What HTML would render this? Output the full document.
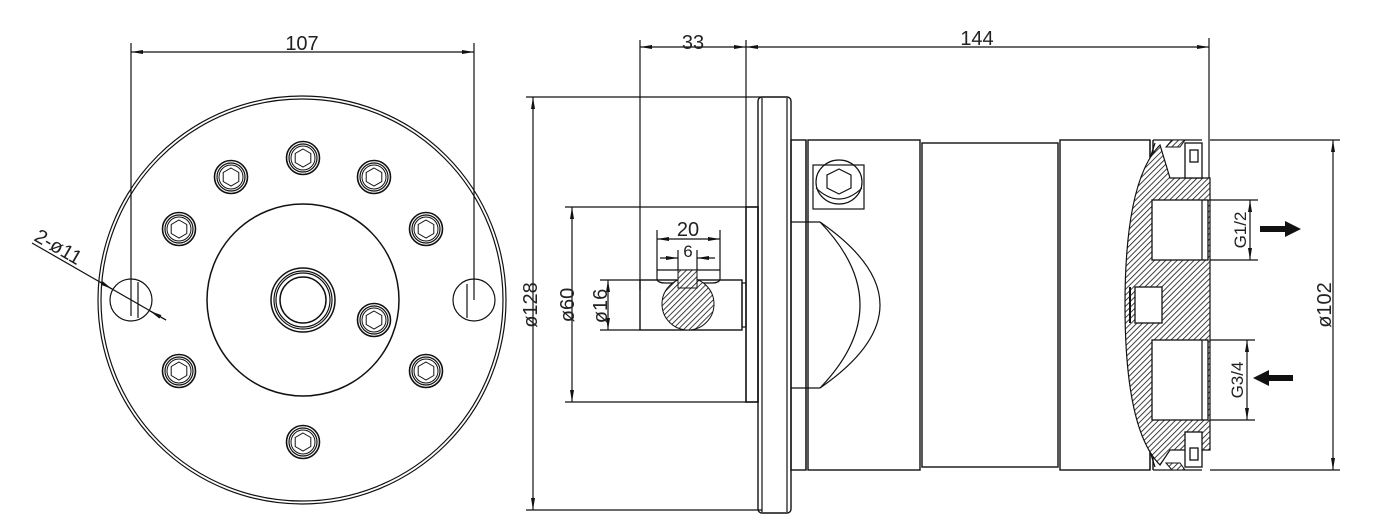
<!DOCTYPE html>
<html><head><meta charset="utf-8"><style>
html,body{margin:0;padding:0;background:#fff}
svg{display:block}
text{font-family:"Liberation Sans",sans-serif;fill:#222}
</style></head><body>
<svg width="1394" height="531" viewBox="0 0 1394 531" xmlns="http://www.w3.org/2000/svg">
<defs>
<pattern id="h" width="4" height="4" patternUnits="userSpaceOnUse" patternTransform="rotate(45)">
<rect width="4" height="4" fill="#fff"/><line x1="0" y1="0" x2="0" y2="4" stroke="#111" stroke-width="1.6"/></pattern>
<marker id="a" markerWidth="12" markerHeight="6" refX="12" refY="3" orient="auto-start-reverse" markerUnits="userSpaceOnUse"><path d="M0,1 L12,3 L0,5z" fill="#111"/></marker>
<g id="bolt"><circle r="16.5" fill="none" stroke="#111" stroke-width="1.6"/><circle r="14" fill="none" stroke="#111" stroke-width="1.2"/><circle r="12" fill="none" stroke="#111" stroke-width="1"/><polygon points="0,-9 7.8,-4.5 7.8,4.5 0,9 -7.8,4.5 -7.8,-4.5" fill="none" stroke="#111" stroke-width="1"/></g>
</defs>
<g fill="none" stroke="#111" stroke-width="1.2">
<!-- LEFT VIEW -->
<circle cx="302" cy="300" r="204"/><circle cx="302" cy="300" r="201"/>
<circle cx="303" cy="300" r="96" stroke-width="1.5"/>
<circle cx="303" cy="300" r="32" stroke-width="1.5"/><circle cx="303" cy="300" r="29"/><circle cx="303" cy="300" r="27"/><circle cx="303" cy="300" r="23" stroke-width="1.5"/>
<circle cx="131" cy="300" r="21"/><circle cx="474" cy="300" r="21"/>
<line x1="131" y1="43" x2="131" y2="316"/><line x1="474" y1="43" x2="474" y2="300"/>
<line x1="138" y1="282" x2="138" y2="318"/><line x1="467" y1="284" x2="467" y2="318"/>
<line x1="131" y1="52" x2="474" y2="52" marker-start="url(#a)" marker-end="url(#a)"/>
<line x1="32" y1="243" x2="166" y2="320"/>
<line x1="100" y1="282" x2="112" y2="289" marker-end="url(#a)"/>
<line x1="166" y1="320" x2="150" y2="311" marker-end="url(#a)"/>
</g>
<use href="#bolt" x="303" y="158"/><use href="#bolt" x="231" y="177"/><use href="#bolt" x="374" y="177"/>
<use href="#bolt" x="179" y="229"/><use href="#bolt" x="426" y="229"/><use href="#bolt" x="179" y="371"/>
<use href="#bolt" x="426" y="371"/><use href="#bolt" x="303" y="442"/><use href="#bolt" x="374" y="320"/>
<text x="302" y="50" font-size="20" text-anchor="middle">107</text>
<text x="0" y="0" font-size="20" transform="translate(33,240) rotate(30)">2-ø11</text>

<!-- RIGHT VIEW -->
<g fill="none" stroke="#111" stroke-width="1.2">
<line x1="640" y1="40" x2="640" y2="290"/><line x1="746" y1="40" x2="746" y2="207"/><line x1="1209" y1="38" x2="1209" y2="178"/>
<line x1="640" y1="47" x2="746" y2="47" marker-start="url(#a)" marker-end="url(#a)"/>
<line x1="746" y1="47" x2="1209" y2="47" marker-start="url(#a)" marker-end="url(#a)"/>
<line x1="526" y1="97" x2="762" y2="97"/><line x1="526" y1="510" x2="762" y2="510"/>
<line x1="533" y1="97" x2="533" y2="510" marker-start="url(#a)" marker-end="url(#a)"/>
<line x1="565" y1="207" x2="746" y2="207"/><line x1="565" y1="402" x2="746" y2="402"/>
<line x1="572" y1="207" x2="572" y2="402" marker-start="url(#a)" marker-end="url(#a)"/>
<line x1="600" y1="280" x2="640" y2="280"/><line x1="600" y1="330" x2="640" y2="330"/>
<line x1="608" y1="280" x2="608" y2="330" marker-start="url(#a)" marker-end="url(#a)"/>
<!-- shaft -->
<rect x="640" y="280" width="102" height="50" stroke-width="1.4"/>
<rect x="742" y="283" width="4" height="44"/>
<rect x="746" y="207" width="12" height="195" stroke-width="1.6"/>
<path d="M657,270 H720 V280 Q718,283 712,283 H700 M657,270 V280 Q659,283 665,283 H676"/>
<line x1="657" y1="230" x2="657" y2="270"/><line x1="720" y1="230" x2="720" y2="270"/>
<line x1="657" y1="239" x2="720" y2="239" marker-start="url(#a)" marker-end="url(#a)"/>
<line x1="678" y1="250" x2="678" y2="270"/><line x1="697" y1="250" x2="697" y2="270"/>
<line x1="660" y1="258" x2="678" y2="258" marker-end="url(#a)"/><line x1="715" y1="258" x2="697" y2="258" marker-end="url(#a)"/>
<!-- flange -->
<rect x="758" y="97" width="33" height="416" rx="4" stroke-width="1.4"/>
<line x1="762" y1="98" x2="762" y2="512"/><line x1="787" y1="98" x2="787" y2="512"/>
<!-- body -->
<rect x="791" y="140" width="15" height="330" stroke-width="1.4"/>
<line x1="806" y1="140" x2="806" y2="470"/>
<rect x="808" y="140" width="112" height="330" stroke-width="1.4"/>
<rect x="922" y="143" width="136" height="324" stroke-width="1.4"/>
<rect x="1060" y="140" width="90" height="330" stroke-width="1.4"/>
<line x1="1150" y1="140" x2="1150" y2="470"/><line x1="1153" y1="140" x2="1153" y2="470" stroke-width="1.4"/>
<line x1="1153" y1="140" x2="1202" y2="140"/><line x1="1153" y1="470" x2="1202" y2="470"/>
<!-- screw -->
<rect x="813" y="165" width="51" height="44"/>
<ellipse cx="839" cy="182" rx="23" ry="22"/><path d="M816,188 Q839,210 862,188"/>
<polygon points="839,169 851,175 851,188 839,194 827,188 827,175"/>
<!-- dome -->
<line x1="791" y1="222" x2="820" y2="222"/><line x1="791" y1="388" x2="820" y2="388"/>
<path d="M820,222 Q940,305 820,388"/><path d="M820,222 Q900,305 820,388"/>
</g>
<circle cx="688" cy="304" r="26" fill="url(#h)" stroke="#111"/>
<rect x="678" y="270" width="19" height="18" fill="url(#h)" stroke="#111"/>
<!-- cap section -->
<path d="M1155,143 Q1100,305 1155,467" fill="none" stroke="#111" stroke-width="1.2"/>
<path d="M1170,178 H1210 V450 H1170 L1160,465 Q1125,430 1125,305 Q1125,180 1160,145 Z" fill="url(#h)" stroke="#111" stroke-width="1.2"/>
<path d="M1172,140 H1185 L1180,147 H1166 Z" fill="url(#h)" stroke="#111"/>
<path d="M1172,470 H1185 L1180,463 H1166 Z" fill="url(#h)" stroke="#111"/>
<g fill="#fff" stroke="#111" stroke-width="1.3">
<rect x="1152" y="200" width="56" height="60"/>
<rect x="1152" y="340" width="56" height="80"/>
<rect x="1135" y="287" width="27" height="36"/>
<rect x="1185" y="143" width="17" height="35"/><rect x="1185" y="432" width="17" height="35"/>
<rect x="1190" y="150" width="8" height="12"/><rect x="1190" y="448" width="8" height="12"/>
</g>
<g fill="none" stroke="#111" stroke-width="1.2">
<line x1="1202" y1="200" x2="1202" y2="260"/><line x1="1202" y1="340" x2="1202" y2="420"/>
<line x1="1130" y1="287" x2="1130" y2="323" stroke-width="2"/>
<line x1="1210" y1="200" x2="1258" y2="200"/><line x1="1210" y1="260" x2="1258" y2="260"/>
<line x1="1250" y1="200" x2="1250" y2="260" marker-start="url(#a)" marker-end="url(#a)"/>
<line x1="1210" y1="340" x2="1255" y2="340"/><line x1="1210" y1="420" x2="1255" y2="420"/>
<line x1="1247" y1="340" x2="1247" y2="420" marker-start="url(#a)" marker-end="url(#a)"/>
<line x1="1210" y1="140" x2="1340" y2="140"/><line x1="1210" y1="470" x2="1340" y2="470"/>
<line x1="1333" y1="140" x2="1333" y2="470" marker-start="url(#a)" marker-end="url(#a)"/>
</g>
<path d="M1260,226 H1285 V221 L1301,229 L1285,237 V232 H1260Z" fill="#111"/>
<path d="M1293,375 H1269 V370 L1253,378 L1269,386 V381 H1293Z" fill="#111"/>
<text x="693" y="49" font-size="20" text-anchor="middle">33</text>
<text x="977" y="45" font-size="20" text-anchor="middle">144</text>
<text x="688" y="236" font-size="20" text-anchor="middle">20</text>
<text x="688" y="257" font-size="17" text-anchor="middle">6</text>
<text font-size="20" text-anchor="middle" transform="translate(537,305) rotate(-90)">ø128</text>
<text font-size="20" text-anchor="middle" transform="translate(574,305) rotate(-90)">ø60</text>
<text font-size="20" text-anchor="middle" transform="translate(607,306) rotate(-90)">ø16</text>
<text font-size="20" text-anchor="middle" transform="translate(1331,305) rotate(-90)">ø102</text>
<text font-size="17" text-anchor="middle" font-family="Liberation Serif" transform="translate(1246,230) rotate(-90)">G1/2</text>
<text font-size="17" text-anchor="middle" font-family="Liberation Serif" transform="translate(1243,380) rotate(-90)">G3/4</text>
</svg>
</body></html>
